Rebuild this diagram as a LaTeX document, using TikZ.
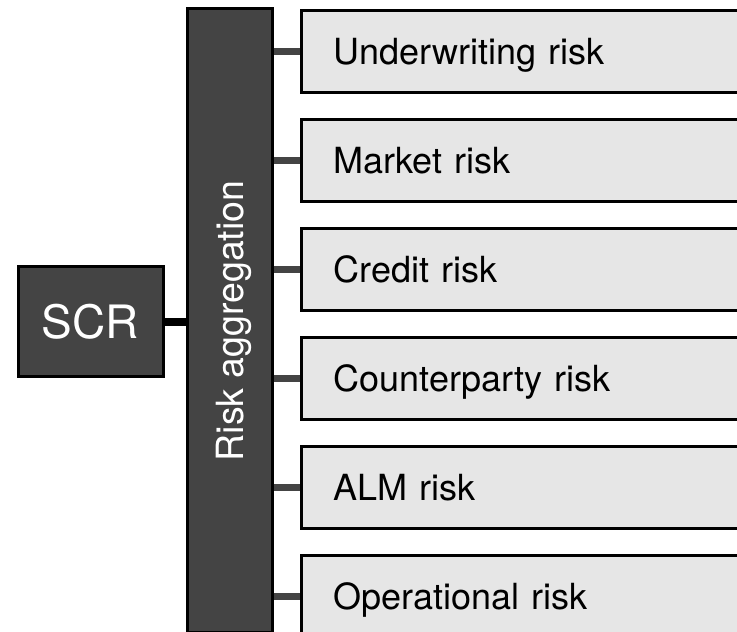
\documentclass[tikz,border=0pt]{standalone}
\usepackage{fontspec}
\setmainfont{TeX Gyre Heros}
\usetikzlibrary{positioning}
\definecolor{aggfill}{HTML}{444444}
\definecolor{riskfill}{HTML}{E6E6E6}
\tikzset{
  basenode/.style = {rectangle, draw=black, line width=3pt, text depth=0pt},
  scr_box/.style = {basenode, fill=aggfill, text=white, minimum width=145pt, minimum height=110pt,
    font=\fontsize{46}{52}\selectfont, text height=33pt},
  agg_bar/.style = {basenode, fill=aggfill, text=white, rotate=90, minimum width=624pt, minimum height=85pt,
    font=\fontsize{37.5}{44}\selectfont, text height=27pt},
  risk_box/.style = {basenode, fill=riskfill, text=black, text width=406pt, inner xsep=32pt, align=left,
    minimum height=82pt, font=\fontsize{36}{42}\selectfont, text height=26pt},
  scr_link/.style = {draw=black, line width=8pt},
  risk_link/.style = {draw=aggfill, line width=7pt}
}
\begin{document}
\begin{tikzpicture}[x=1pt,y=1pt]
	\clip (0,0) rectangle (737,632);
	\node [scr_box] (scr) at (90.5,310) {SCR};
	% bar is turned: its north is on the left, its south on the right
	\node [agg_bar] (agg) at (229.5,311) {Risk aggregation};
	\node [risk_box, anchor=north west] (uw) at (300,623) {Underwriting risk};
	\node [risk_box, below=24pt of uw] (mkt) {Market risk};
	\node [risk_box, below=24pt of mkt] (cred) {Credit risk};
	\node [risk_box, below=24pt of cred] (cpty) {Counterparty risk};
	\node [risk_box, below=24pt of cpty] (alm) {ALM risk};
	\node [risk_box, below=24pt of alm] (oper) {Operational risk};

	\draw [scr_link] (scr.east) -- (scr.east -| agg.north);
	\draw [risk_link] (agg.south |- uw.west) -- (uw.west);
	\draw [risk_link] (agg.south |- mkt.west) -- (mkt.west);
	\draw [risk_link] (agg.south |- cred.west) -- (cred.west);
	\draw [risk_link] (agg.south |- cpty.west) -- (cpty.west);
	\draw [risk_link] (agg.south |- alm.west) -- (alm.west);
	\draw [risk_link] (agg.south |- oper.west) -- (oper.west);
\end{tikzpicture}
\end{document}
